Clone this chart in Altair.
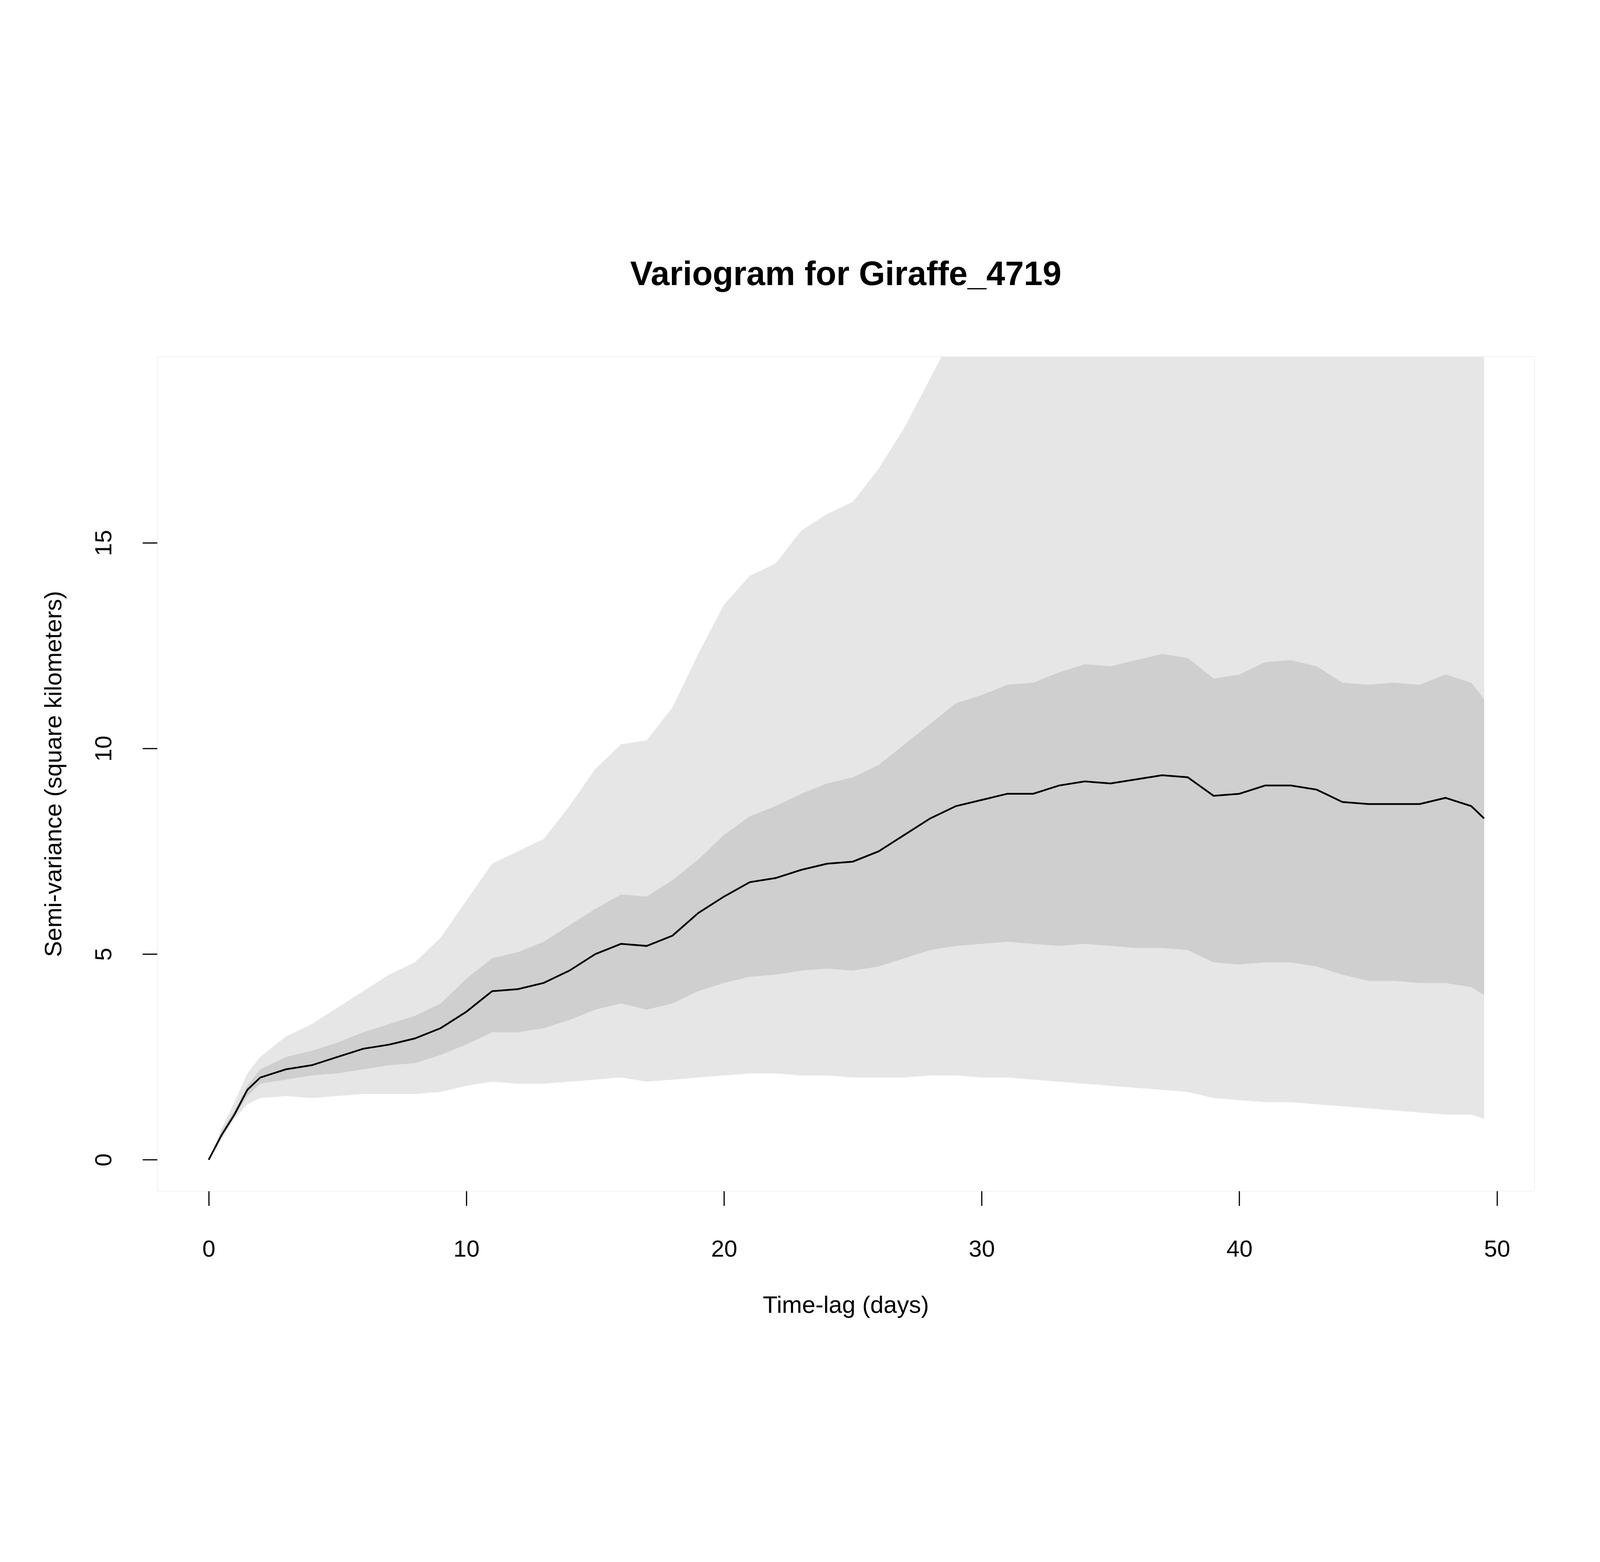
import altair as alt
import pandas as pd

lag = [0,0.5,1,1.5,2] + list(range(3,50)) + [49.5]
mean = [0,0.6,1.1,1.7,2.0,2.2,2.3,2.5,2.7,2.8,2.95,3.2,3.6,4.1,4.15,4.3,4.6,5.0,5.25,5.2,5.45,6.0,6.4,6.75,6.85,7.05,7.2,7.25,7.5,7.9,8.3,8.6,8.75,8.9,8.9,9.1,9.2,9.15,9.25,9.35,9.3,8.85,8.9,9.1,9.1,9.0,8.7,8.65,8.65,8.65,8.8,8.6,8.3]
in_hi = [0,0.7,1.2,1.8,2.2,2.5,2.65,2.85,3.1,3.3,3.5,3.8,4.4,4.9,5.05,5.3,5.7,6.1,6.45,6.4,6.8,7.3,7.9,8.35,8.6,8.9,9.15,9.3,9.6,10.1,10.6,11.1,11.3,11.55,11.6,11.85,12.05,12.0,12.15,12.3,12.2,11.7,11.8,12.1,12.15,12.0,11.6,11.55,11.6,11.55,11.8,11.6,11.2]
in_lo = [0,0.55,1.05,1.55,1.85,1.95,2.05,2.1,2.2,2.3,2.35,2.55,2.8,3.1,3.1,3.2,3.4,3.65,3.8,3.65,3.8,4.1,4.3,4.45,4.5,4.6,4.65,4.6,4.7,4.9,5.1,5.2,5.25,5.3,5.25,5.2,5.25,5.2,5.15,5.15,5.1,4.8,4.75,4.8,4.8,4.7,4.5,4.35,4.35,4.3,4.3,4.2,4.0]
out_hi = [0,0.75,1.4,2.1,2.5,3.0,3.3,3.7,4.1,4.5,4.8,5.4,6.3,7.2,7.5,7.8,8.6,9.5,10.1,10.2,11.0,12.3,13.5,14.2,14.5,15.3,15.7,16.0,16.8,17.8,19.0,20.2,21.0,22.0,22.5,23.0,23.5,24.0,24.5,25.0,25.0,25.0,25.0,25.0,25.0,25.0,25.0,25.0,25.0,25.0,25.0,25.0,25.0]
out_lo = [0,0.5,1.0,1.35,1.5,1.55,1.5,1.55,1.6,1.6,1.6,1.65,1.8,1.9,1.85,1.85,1.9,1.95,2.0,1.9,1.95,2.0,2.05,2.1,2.1,2.05,2.05,2.0,2.0,2.0,2.05,2.05,2.0,2.0,1.95,1.9,1.85,1.8,1.75,1.7,1.65,1.5,1.45,1.4,1.4,1.35,1.3,1.25,1.2,1.15,1.1,1.1,1.0]

df = pd.DataFrame(dict(lag=lag, mean=mean, in_hi=in_hi, in_lo=in_lo, out_hi=out_hi, out_lo=out_lo))

F = "Liberation Sans"
xs = alt.Scale(domain=[-2.0, 51.45], nice=False, zero=False)
ys = alt.Scale(domain=[-0.76, 19.53], nice=False, zero=False)
xax = alt.Axis(values=[0,10,20,30,40,50], format="d", grid=False, domain=False, tickSize=50, tickWidth=4,
               tickColor="black", labelFontSize=80, labelFont=F, labelColor="black", labelPadding=110,
               title="Time-lag (days)", titleFontSize=82, titleFont=F, titleFontWeight="normal",
               titleColor="black", titlePadding=150)
yax = alt.Axis(values=[0,5,10,15], format="d", grid=False, domain=False, tickSize=50, tickWidth=4, tickColor="black",
               labelFontSize=80, labelFont=F, labelColor="black", labelPadding=90, labelAngle=270,
               labelAlign="center", labelBaseline="bottom",
               title="Semi-variance (square kilometers)", titleFontSize=82, titleFont=F,
               titleFontWeight="normal", titleColor="black", titlePadding=110)

base = alt.Chart(df)
outer = base.mark_area(color="#e6e6e6", clip=True).encode(
    x=alt.X("lag:Q", scale=xs, axis=xax), y=alt.Y("out_lo:Q", scale=ys, axis=yax), y2="out_hi:Q")
inner = base.mark_area(color="#cfcfcf", clip=True).encode(x=alt.X("lag:Q", scale=xs), y=alt.Y("in_lo:Q", scale=ys), y2="in_hi:Q")
line = base.mark_line(color="black", strokeWidth=6, clip=True).encode(x=alt.X("lag:Q", scale=xs), y=alt.Y("mean:Q", scale=ys))

chart = alt.layer(outer, inner, line).properties(
    width=5432, height=3984,
    title=alt.TitleParams("Variogram for Giraffe_4719", font=F, fontSize=115, fontWeight="bold",
                          color="black", offset=220, anchor="middle"),
    autosize=alt.AutoSizeParams(type="fit", contains="padding"),
    padding={"left": 132, "top": 209, "right": 213, "bottom": 163},
).configure_view(stroke="black", strokeWidth=5, strokeOpacity=1).configure(background="white")

chart.save("out.html", embed_options={"renderer": "svg", "actions": False})
